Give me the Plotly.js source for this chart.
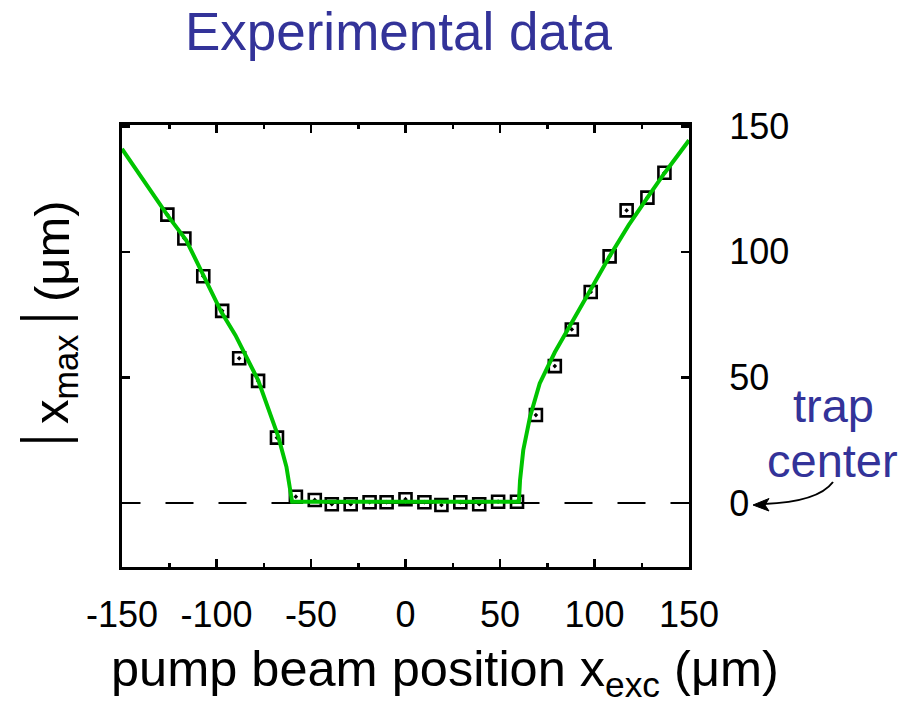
<!DOCTYPE html>
<html>
<head>
<meta charset="utf-8">
<script src="https://cdn.plot.ly/plotly-3.0.1.min.js"></script>
<style>html,body{margin:0;padding:0;background:#fff;}#chart{width:917px;height:703px;}</style>
</head>
<body>
<div id="chart"></div>
<script>
// Measured data points (pump beam position, |x_max|)
var dataX = [-126,-117,-107,-97,-88,-78,-68,-58,-48,-39,-29,-19,-10,0,10,19,29,39,49,59,69,79,88,98,108,117,128,137];
var dataY = [114.8,105.3,90.3,76.5,57.6,48.6,26.0,2.5,1.2,-0.5,-0.5,0.3,0.3,1.5,0.3,-0.8,0.3,-0.5,0.5,0.5,35.0,54.5,69.1,84.0,98.2,116.5,121.6,131.5];

// Fit curve (green)
var fitX = [-150,-126,-116,-106.6,-97.5,-90,-84,-78,-67.3,-63,-60,60,60.6,62.3,65.9,71,79,88,98,108,118,128,137,150];
var fitY = [141,114.6,104.6,90,76.1,66.8,57.6,48.9,26.4,14.4,0.5,0.5,9,21,34.3,47.6,60,71.5,85,98.2,110.5,121.6,131.3,144.4];

// Tick labels
var xTickVals = [-150,-100,-50,0,50,100,150];
var xTickText = ['-150','-100','-50','0','50','100','150'];
var xMinorVals = [-125,-75,-25,25,75,125];
var yTickVals = [0,50,100,150];
var yTickText = ['0','50','100','150'];

var FONT = 'Liberation Sans, Arial, Helvetica, sans-serif';
var BLUE = '#333399';

var W = 917, H = 703, L = 122, R = 228, T = 125, B = 136;
var pw = W - L - R, ph = H - T - B;
function px(x){ return (x - L) / pw; }
function py(y){ return (H - B - y) / ph; }

var traces = [
  {
    x: dataX, y: dataY, type: 'scatter', mode: 'markers',
    marker: {symbol: 'square-open-dot', size: 12, color: 'black', line: {color: 'black', width: 2.6}},
    hoverinfo: 'skip', showlegend: false
  },
  {
    x: fitX, y: fitY, type: 'scatter', mode: 'lines',
    line: {color: '#00c400', width: 4},
    hoverinfo: 'skip', showlegend: false
  }
];

var arrowPath = 'M ' + px(833) + ',' + py(482) + ' Q ' + px(818) + ',' + py(502) + ' ' + px(764) + ',' + py(504);
var headPath = 'M ' + px(753) + ',' + py(505) + ' L ' + px(769) + ',' + py(498.5) + ' L ' + px(765) + ',' + py(505) + ' L ' + px(769) + ',' + py(511) + ' Z';

var layout = {
  width: W, height: H,
  margin: {l: L, r: R, t: T, b: B, pad: 0},
  paper_bgcolor: 'white', plot_bgcolor: 'white',
  font: {family: FONT, color: 'black'},
  title: {
    text: 'Experimental data',
    font: {family: FONT, size: 53, color: BLUE},
    xref: 'container', yref: 'container',
    x: 398.5 / W, xanchor: 'center',
    y: 1 - 31 / H, yanchor: 'middle'
  },
  xaxis: {
    range: [-150, 150],
    tickmode: 'array', tickvals: xTickVals, ticktext: xTickText,
    ticks: 'inside', ticklen: 8, tickwidth: 2.5, tickcolor: 'black',
    minor: {tickmode: 'array', tickvals: xMinorVals, ticks: 'inside', ticklen: 4, tickwidth: 2.5, tickcolor: 'black'},
    showline: true, linewidth: 3, linecolor: 'black', mirror: 'allticks',
    showgrid: false, zeroline: false,
    tickfont: {family: FONT, size: 36, color: 'black'},
    ticklabelstandoff: 14
  },
  yaxis: {
    range: [-25.5, 150.5], side: 'right',
    tickmode: 'array', tickvals: yTickVals, ticktext: yTickText,
    ticks: 'inside', ticklen: 8, tickwidth: 2.5, tickcolor: 'black',
    showline: true, linewidth: 3, linecolor: 'black', mirror: 'allticks',
    showgrid: false, zeroline: false,
    tickfont: {family: FONT, size: 36, color: 'black'},
    ticklabelstandoff: 30
  },
  shapes: [
    {type: 'line', xref: 'x', yref: 'y', x0: 0, y0: 0, x1: -160, y1: 0, layer: 'below', line: {color: 'black', width: 2, dash: '28px,25px'}},
    {type: 'line', xref: 'x', yref: 'y', x0: 0, y0: 0, x1: 160, y1: 0, layer: 'below', line: {color: 'black', width: 2, dash: '28px,25px'}},
    {type: 'path', xref: 'paper', yref: 'paper', path: arrowPath, line: {color: 'black', width: 2}},
    {type: 'path', xref: 'paper', yref: 'paper', path: headPath, fillcolor: 'black', line: {color: 'black', width: 1}},
    // absolute-value bars of the y-axis title
    {type: 'line', xref: 'paper', yref: 'paper', x0: px(20), x1: px(78), y0: py(440), y1: py(440), line: {color: 'black', width: 3.5}},
    {type: 'line', xref: 'paper', yref: 'paper', x0: px(20), x1: px(78), y0: py(318), y1: py(318), line: {color: 'black', width: 3.5}}
  ],
  annotations: [
    {
      text: 'pump beam position x<sub>exc</sub> (μm)',
      xref: 'paper', yref: 'paper', x: px(445), y: py(672), xanchor: 'center', yanchor: 'middle',
      showarrow: false, font: {family: FONT, size: 50.5, color: 'black'}
    },
    {
      text: 'x<sub>max</sub>',
      xref: 'paper', yref: 'paper', x: px(54), y: py(380), xanchor: 'center', yanchor: 'middle',
      textangle: -90, showarrow: false, font: {family: FONT, size: 49, color: 'black'}
    },
    {
      text: '(μm)',
      xref: 'paper', yref: 'paper', x: px(52), y: py(251), xanchor: 'center', yanchor: 'middle',
      textangle: -90, showarrow: false, font: {family: FONT, size: 49, color: 'black'}
    },
    {
      text: 'trap', xref: 'paper', yref: 'paper', x: px(833), y: py(405), xanchor: 'center', yanchor: 'middle',
      showarrow: false, font: {family: FONT, size: 47, color: BLUE}
    },
    {
      text: 'center', xref: 'paper', yref: 'paper', x: px(832), y: py(460), xanchor: 'center', yanchor: 'middle',
      showarrow: false, font: {family: FONT, size: 47, color: BLUE}
    }
  ]
};

Plotly.newPlot('chart', traces, layout, {displayModeBar: false, staticPlot: true});
</script>
</body>
</html>
